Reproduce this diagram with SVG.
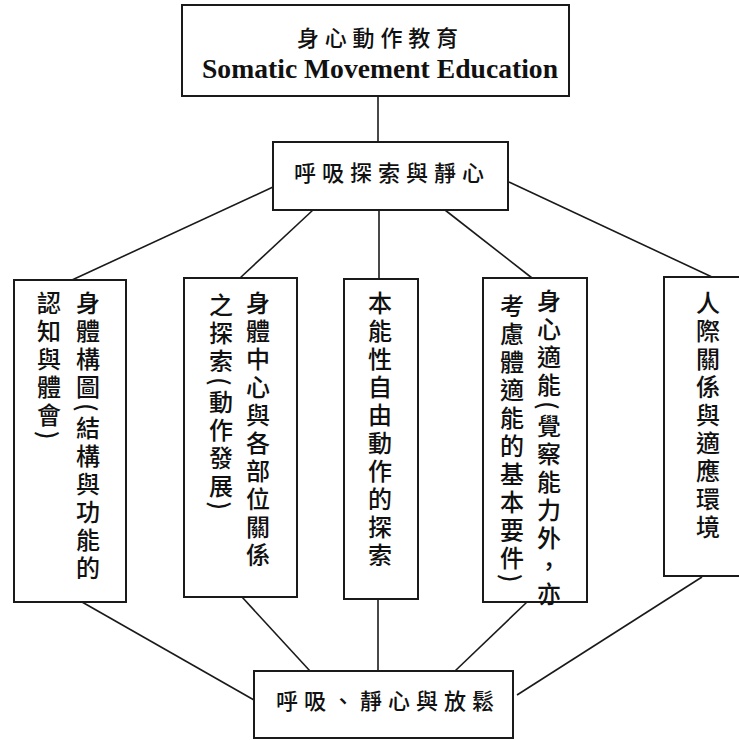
<svg xmlns="http://www.w3.org/2000/svg" width="739" height="740" viewBox="0 0 739 740">
<style>
.box{fill:#fff;stroke:#1a1a1a;stroke-width:2}
.ln{stroke:#1a1a1a;stroke-width:1.6;fill:none}
.cjk{font-family:"Noto Sans CJK TC","Noto Sans CJK SC",sans-serif;font-weight:500;fill:#111;font-size:22px;letter-spacing:6px}
.v{font-family:"Noto Sans CJK TC","Noto Sans CJK SC",sans-serif;font-weight:500;fill:#111;font-size:24px;letter-spacing:4px;writing-mode:vertical-rl}
.en{font-family:"Liberation Serif","Times New Roman",serif;font-weight:bold;font-size:27.6px;fill:#111}
</style>
<rect width="739" height="740" fill="#fff"/>
<g id="connectors">
<line class="ln" x1="378" y1="96" x2="378" y2="142"/>
<line class="ln" x1="273" y1="187" x2="72" y2="280"/>
<line class="ln" x1="313" y1="210" x2="240" y2="278"/>
<line class="ln" x1="379" y1="210" x2="379" y2="279"/>
<line class="ln" x1="445" y1="210" x2="532" y2="278"/>
<line class="ln" x1="509" y1="182" x2="712" y2="277"/>
<line class="ln" x1="82" y1="602" x2="254" y2="700"/>
<line class="ln" x1="242" y1="597" x2="310" y2="671"/>
<line class="ln" x1="378" y1="599" x2="378" y2="671"/>
<line class="ln" x1="527" y1="602" x2="455" y2="671"/>
<line class="ln" x1="702" y1="577" x2="517" y2="695"/>
</g>
<g id="top">
<rect class="box" x="182" y="5" width="387" height="91"/>
<text class="cjk" x="297" y="45.5" style="letter-spacing:5.8px">身心動作教育</text>
<text class="en" x="202" y="78" textLength="356">Somatic Movement Education</text>
</g>
<g id="breath-explore">
<rect class="box" x="273" y="142" width="235" height="68"/>
<text class="cjk" x="294" y="180.5">呼吸探索與靜心</text>
</g>
<g id="body-map">
<rect class="box" x="14" y="280" width="112" height="322"/>
<text class="v" x="88" y="291">身體構圖(結構與功能的</text>
<text class="v" x="49" y="291">認知與體會)</text>
</g>
<g id="body-center">
<rect class="box" x="184" y="278" width="113" height="319"/>
<text class="v" x="258" y="291">身體中心與各部位關係</text>
<text class="v" x="221" y="293">之探索(動作發展)</text>
</g>
<g id="instinct">
<rect class="box" x="344" y="279" width="74" height="320"/>
<text class="v" x="380" y="291">本能性自由動作的探索</text>
</g>
<g id="fitness">
<rect class="box" x="483" y="278" width="104" height="324"/>
<text class="v" x="549" y="289">身心適能(覺察能力外，亦</text>
<text class="v" x="512" y="294">考慮體適能的基本要件)</text>
</g>
<g id="relations">
<rect class="box" x="664" y="277" width="90" height="299"/>
<text class="v" x="708" y="291">人際關係與適應環境</text>
</g>
<g id="relax">
<rect class="box" x="254" y="671" width="259" height="67"/>
<text class="cjk" x="276" y="709">呼吸、靜心與放鬆</text>
</g>
</svg>
